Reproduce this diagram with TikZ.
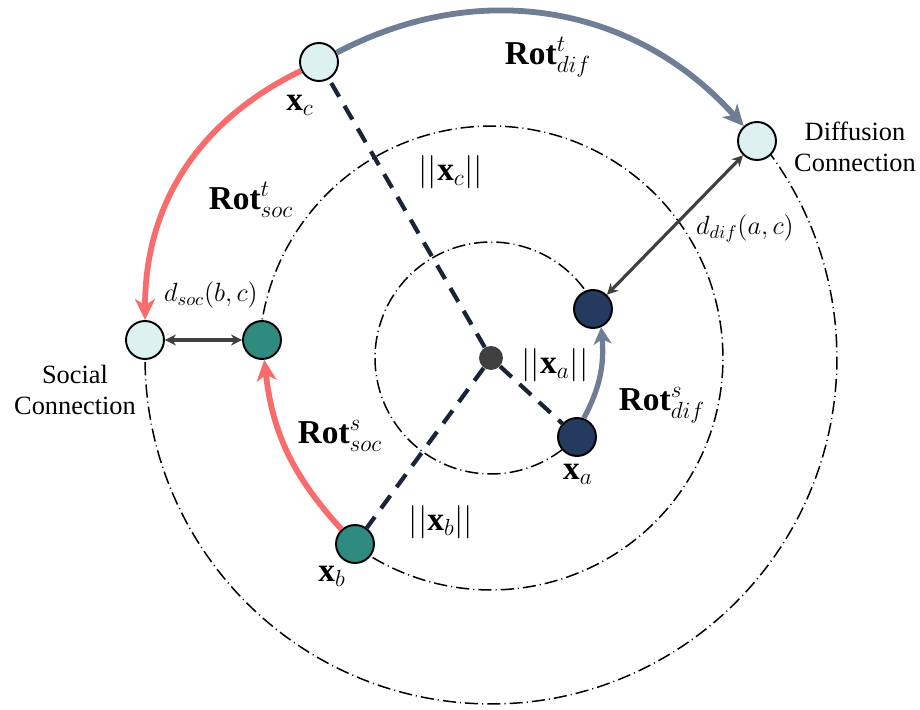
\RequirePackage{fix-cm}
\documentclass[tikz,border=0pt]{standalone}
\usepackage{fontspec}
\setmainfont{Liberation Serif}
\usetikzlibrary{arrows.meta}
\definecolor{lightc}{HTML}{DDF2F0}
\definecolor{tealc}{HTML}{2F8A80}
\definecolor{navyc}{HTML}{243A5E}
\definecolor{redc}{HTML}{F96C6C}
\definecolor{greyc}{HTML}{6F7D95}
\definecolor{dashc}{HTML}{1B2436}
\definecolor{darkg}{HTML}{404040}
\tikzset{
  ring/.style={line width=0.85pt, dash pattern=on 7.5pt off 2.3pt on 0.6pt off 2.3pt},
  normline/.style={line width=2.4pt, draw=dashc, dash pattern=on 9pt off 6pt},
  pt/.style={circle, draw=black, line width=1.1pt, minimum size=0.76cm, inner sep=0pt},
  bigarr/.style={line width=3.3pt, -{Stealth[length=0.42cm, width=0.4cm, inset=0.12cm]}},
  dbl/.style={line width=1.8pt, draw=darkg, {Stealth[length=0.22cm,width=0.22cm]}-{Stealth[length=0.22cm,width=0.22cm]}},
  bigmath/.style={inner sep=0pt, font=\fontsize{19}{21}\selectfont},
  smallmath/.style={inner sep=0pt, font=\fontsize{15}{17}\selectfont},
  txt/.style={inner sep=0pt, align=center, font=\fontsize{15}{17.5}\selectfont}
}
\begin{document}
\begin{tikzpicture}[x=0.02cm, y=0.02cm]
\useasboundingbox (-491,-352) rectangle (429,358);
% rings
\draw[ring] (177:6.92cm) arc[start angle=177, end angle=399.3, radius=6.92cm];
\draw[ring] (233.8:4.64cm) arc[start angle=233.8, end angle=535.5, radius=4.64cm];
\draw[ring] (25.7:2.32cm) arc[start angle=25.7, end angle=317.4, radius=2.32cm];
% nodes
\node[circle, fill=darkg, minimum size=0.48cm, inner sep=0pt] (o) at (0,0) {};
\node[pt, fill=lightc] (c) at (-172,296) {};
\node[pt, fill=lightc] (dif) at (266,217) {};
\node[pt, fill=lightc] (soc) at (-346,18) {};
\node[pt, fill=tealc] (bp) at (-229,18) {};
\node[pt, fill=tealc] (b) at (-136,-186) {};
\node[pt, fill=navyc] (a) at (86,-79) {};
\node[pt, fill=navyc] (ap) at (102,49) {};
% norm lines
\draw[normline] (o) -- (c);
\draw[normline] (o) -- (b);
\draw[normline] (o) -- (a);
% rotation arrows
\draw[bigarr, draw=greyc] (c) to[bend left=38] (dif);
\draw[bigarr, draw=redc] (c) to[bend right=32] (soc);
\draw[bigarr, draw=redc] (b) to[bend left=18] (bp);
\draw[line width=3pt, draw=greyc, -{Stealth[length=0.34cm, width=0.36cm, inset=0.1cm]}] (a.70) to[out=62,in=-85] (ap.-66);
% distance arrows
\draw[dbl] (soc) -- (bp);
\draw[dbl] (dif) -- (ap);
% labels
\node[bigmath] (lxc) at (-191,253) {$\mathbf{x}_c$};
\node[bigmath] (lrts) at (-240,158) {$\mathbf{Rot}^t_{soc}$};
\node[smallmath] (ldsoc) at (-280,63) {$d_{soc}(b,c)$};
\node[bigmath] (lnc) at (-40,186) {$||\mathbf{x}_c||$};
\node[bigmath] (lrtd) at (57,301) {$\mathbf{Rot}^t_{dif}$};
\node[txt] (ldc) at (364,211) {Diffusion\\Connection};
\node[smallmath] (lddif) at (254,130) {$d_{dif}(a,c)$};
\node[txt] (lsc) at (-416,-32) {Social\\Connection};
\node[bigmath] (lrss) at (-151,-78) {$\mathbf{Rot}^s_{soc}$};
\node[bigmath] (lnb) at (-50,-164) {$||\mathbf{x}_b||$};
\node[bigmath] (lxb) at (-159,-218) {$\mathbf{x}_b$};
\node[bigmath] (lna) at (64,-7) {$||\mathbf{x}_a||$};
\node[bigmath] (lrsd) at (171,-47) {$\mathbf{Rot}^s_{dif}$};
\node[bigmath] (lxa) at (87,-116) {$\mathbf{x}_a$};
\end{tikzpicture}
\end{document}
